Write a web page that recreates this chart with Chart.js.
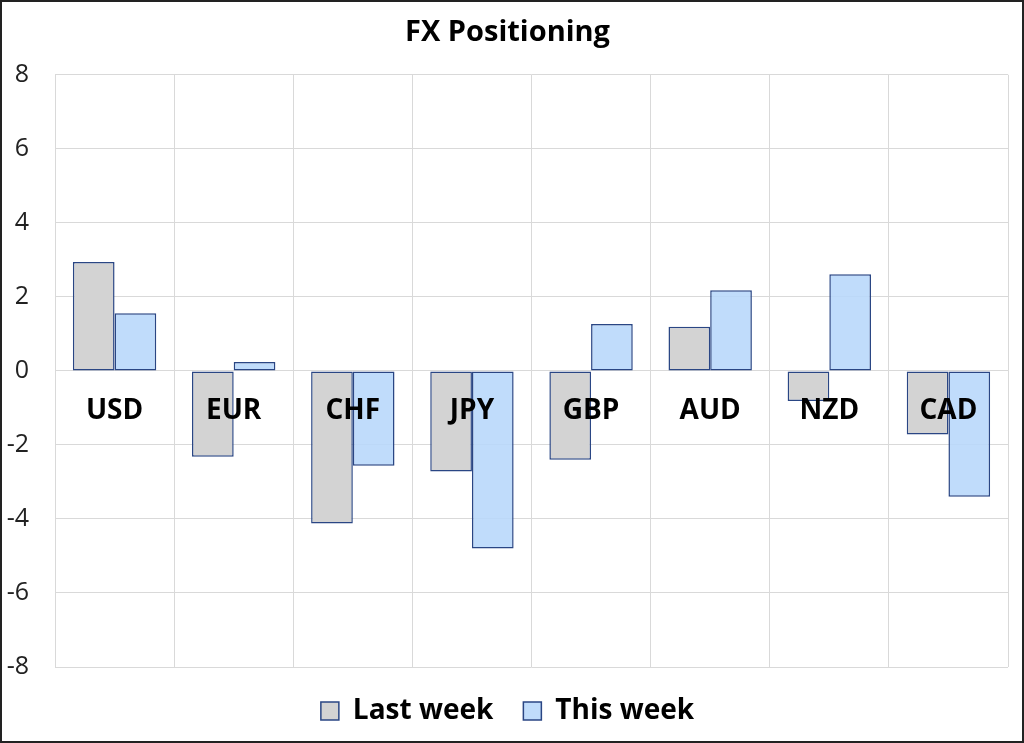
<!DOCTYPE html>
<html>
<head>
<meta charset="utf-8">
<script src="https://cdn.jsdelivr.net/npm/chart.js@4/dist/chart.umd.min.js"></script>
<style>
html,body{margin:0;padding:0;background:#fff;}
#wrap{width:1024px;height:743px;position:relative;}
</style>
</head>
<body>
<div id="wrap"><canvas id="c" width="1024" height="743"></canvas></div>
<script>
const categories = ["USD","EUR","CHF","JPY","GBP","AUD","NZD","CAD"];
const lastWeek = [2.94, -2.32, -4.12, -2.72, -2.40, 1.19, -0.81, -1.72];
const thisWeek = [1.56, 0.24, -2.56, -4.80, 1.27, 2.18, 2.61, -3.40];
const yTicks = [-8,-6,-4,-2,0,2,4,6,8];

const FONT = "'Open Sans', 'Noto Sans', sans-serif";

const catLabels = {
  id: 'catLabels',
  afterDatasetsDraw(chart) {
    const ctx = chart.ctx;
    const x = chart.scales.x, y = chart.scales.y;
    ctx.save();
    ctx.font = "bold 28px " + FONT;
    ctx.fillStyle = "#000";
    ctx.textAlign = "center";
    ctx.textBaseline = "middle";
    categories.forEach((c, i) => {
      ctx.fillText(c, x.getPixelForValue(i), y.getPixelForValue(0) + 40);
    });
    ctx.restore();
  }
};
const frame = {
  id: 'frame',
  afterDraw(chart) {
    const ctx = chart.ctx;
    ctx.save();
    ctx.strokeStyle = "#222";
    ctx.lineWidth = 2;
    ctx.strokeRect(1, 1, chart.width - 2, chart.height - 2);
    ctx.restore();
  }
};
const whiteBg = {
  id: 'whiteBg',
  beforeDraw(chart) {
    const ctx = chart.ctx;
    ctx.save();
    ctx.fillStyle = "#fff";
    ctx.fillRect(0, 0, chart.width, chart.height);
    ctx.restore();
  }
};

new Chart(document.getElementById('c'), {
  type: 'bar',
  data: {
    labels: categories,
    datasets: [
      { label: 'Last week', data: lastWeek, backgroundColor: '#d3d3d3', borderColor: '#2a4684', borderWidth: 1.5, borderSkipped: false },
      { label: 'This week', data: thisWeek, backgroundColor: 'rgba(183,215,250,0.88)', borderColor: '#2a4684', borderWidth: 1.5, borderSkipped: false }
    ]
  },
  options: {
    responsive: false,
    animation: false,
    devicePixelRatio: 1,
    layout: { padding: { left: 7, right: 16, top: 0, bottom: 8 } },
    datasets: { bar: { categoryPercentage: 0.7, barPercentage: 1.0 } },
    plugins: {
      title: {
        display: true, text: 'FX Positioning', color: '#000',
        font: { family: FONT, size: 29, weight: 'bold' },
        padding: { top: 15, bottom: 25 }
      },
      legend: {
        position: 'bottom',
        labels: {
          color: '#000',
          font: { family: FONT, size: 28, weight: 'bold' },
          boxWidth: 18, boxHeight: 18, padding: 30
        }
      },
      tooltip: { enabled: false }
    },
    scales: {
      x: {
        ticks: { display: false },
        grid: { color: '#d9d9d9', lineWidth: 1, drawTicks: false, offset: true },
        border: { display: false }
      },
      y: {
        min: -8, max: 8,
        afterBuildTicks(axis) { axis.ticks = yTicks.map(v => ({ value: v })); },
        afterFit(axis) { axis.width = 48; },
        ticks: { color: '#222', font: { family: FONT, size: 25 }, padding: 26 },
        grid: { color: '#d9d9d9', lineWidth: 1, drawTicks: false },
        border: { display: false }
      }
    }
  },
  plugins: [whiteBg, catLabels, frame]
});
</script>
</body>
</html>
